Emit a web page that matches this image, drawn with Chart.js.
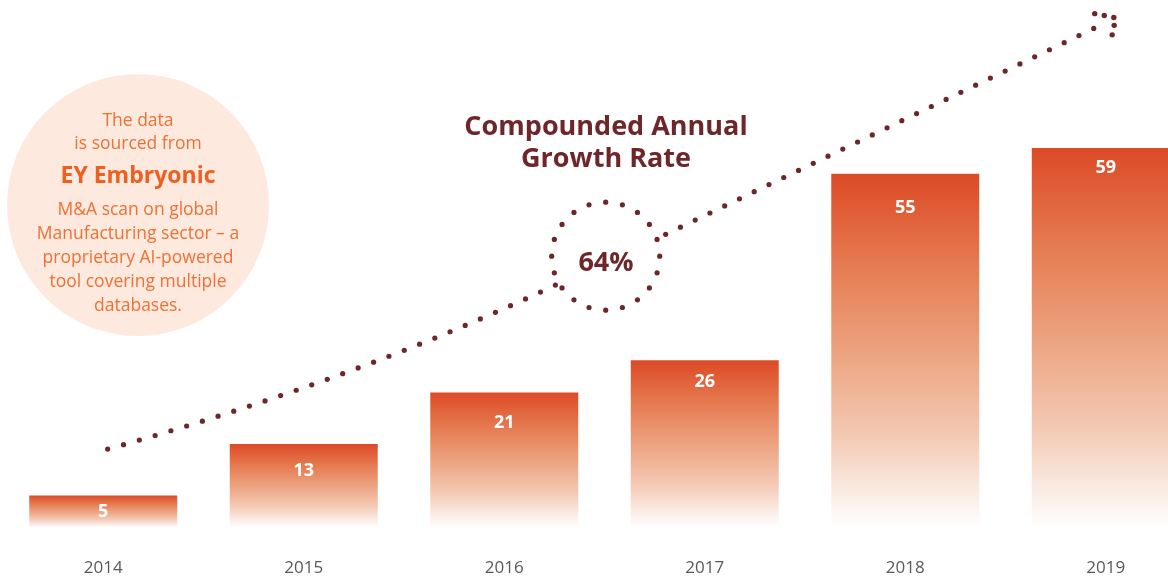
<!DOCTYPE html>
<html>
<head>
<meta charset="utf-8">
<title>Deal count 2014-2019</title>
<script src="https://cdn.jsdelivr.net/npm/chart.js@4.4.1/dist/chart.umd.min.js"></script>
<style>
 body {
  margin: 0;
  width: 1168px;
  height: 578px;
  overflow: hidden;
  position: relative;
  background: #ffffff;
  font-family: 'Open Sans', 'Noto Sans', sans-serif;
 }
 #chartBox {
  position: absolute;
  left: 0;
  top: 0;
  width: 1212px;
  height: 578px;
 }
 .source {
  position: absolute;
  left: 7px;
  top: 74px;
  width: 262px;
  height: 262px;
  border-radius: 50%;
  background: #fde9de;
  color: #f07034;
  text-align: center;
  white-space: nowrap;
 }
 .source .intro {
  margin: 0;
  padding-top: 34px;
  font-size: 17.5px;
  line-height: 23px;
 }
 .source .brand {
  margin: 5px 0 0 0;
  font-size: 23px;
  font-weight: 700;
  line-height: 30px;
  color: #ec6122;
 }
 .source .desc {
  margin: 7px 0 0 0;
  font-size: 17.5px;
  line-height: 24px;
 }
 .cagrTitle {
  position: absolute;
  left: 406px;
  top: 109px;
  width: 400px;
  text-align: center;
  font-size: 27px;
  font-weight: 700;
  line-height: 32px;
  color: #6f262a;
 }
 .cagrValue {
  position: absolute;
  left: 556px;
  top: 245px;
  width: 100px;
  text-align: center;
  font-size: 27px;
  font-weight: 700;
  line-height: 32px;
  color: #6f262a;
 }
</style>
</head>
<body>

<div id="chartBox"><canvas id="dealChart" width="1212" height="578"></canvas></div>

<div class="source">
 <p class="intro">The data<br>is sourced from</p>
 <p class="brand">EY Embryonic</p>
 <p class="desc">M&amp;A scan on global<br>Manufacturing sector – a<br>proprietary AI-powered<br>tool covering multiple<br>databases.</p>
</div>

<div class="cagrTitle">Compounded Annual<br>Growth Rate</div>
<div class="cagrValue" id="cagrValue"></div>

<script>
// yearly counts shown on the bars
const years = ['2014', '2015', '2016', '2017', '2018', '2019'];
const dealCounts = [5, 13, 21, 26, 55, 59];
const cagrPercent = 64;

const dotColor = '#6d2629';

document.getElementById('cagrValue').textContent = cagrPercent + '%';

// each bar fades from orange at its top to white at the axis
function barGradient(context) {
 var chart = context.chart;
 if (!chart.chartArea || !chart.scales.y) {
  return '#dc4a26';
 }
 var yScale = chart.scales.y;
 var top = yScale.getPixelForValue(context.raw);
 var base = yScale.getPixelForValue(0);
 var g = chart.ctx.createLinearGradient(0, top, 0, base);
 g.addColorStop(0, '#dc4a26');
 g.addColorStop(0.25, '#e5794f');
 g.addColorStop(0.5, '#eca27f');
 g.addColorStop(0.75, '#f4cbb6');
 g.addColorStop(0.9, '#faebe3');
 g.addColorStop(1, '#ffffff');
 return g;
}

// white value labels inside the bars
const barLabels = {
 id: 'barLabels',
 afterDatasetsDraw(chart) {
  var ctx = chart.ctx;
  var meta = chart.getDatasetMeta(0);
  var offsets = [16, 27, 30, 22, 34, 20];
  ctx.save();
  ctx.fillStyle = '#ffffff';
  ctx.font = "700 18px 'Open Sans'";
  ctx.textAlign = 'center';
  ctx.textBaseline = 'middle';
  meta.data.forEach(function(bar, i) {
   ctx.fillText(String(dealCounts[i]), bar.x, bar.y + offsets[i]);
  });
  ctx.restore();
 }
};

// dotted growth arrow, laid out in category/value units
const trendArrow = {
 id: 'trendArrow',
 afterDatasetsDraw(chart) {
  var xs = chart.scales.x;
  var ys = chart.scales.y;
  var ctx = chart.ctx;

  function toPx(p) {
   return { x: xs.getPixelForValue(p[0]), y: ys.getPixelForValue(p[1]) };
  }

  function dot(x, y, r) {
   ctx.beginPath();
   ctx.arc(x, y, r, 0, Math.PI * 2);
   ctx.fill();
  }

  // drop dots evenly along a sampled path
  function dottedPath(pts, step, r) {
   var total = 0;
   var lens = [0];
   for (var i = 1; i < pts.length; i++) {
    total += Math.hypot(pts[i].x - pts[i - 1].x, pts[i].y - pts[i - 1].y);
    lens.push(total);
   }
   var n = Math.max(1, Math.round(total / step));
   var j = 1;
   for (var k = 0; k <= n; k++) {
    var d = total * k / n;
    while (j < lens.length - 1 && lens[j] < d) j++;
    var seg = lens[j] - lens[j - 1] || 1;
    var t = (d - lens[j - 1]) / seg;
    dot(pts[j - 1].x + (pts[j].x - pts[j - 1].x) * t,
     pts[j - 1].y + (pts[j].y - pts[j - 1].y) * t, r);
   }
  }

  function quadPoints(a, c, b) {
   var out = [];
   for (var i = 0; i <= 60; i++) {
    var t = i / 60;
    var u = 1 - t;
    out.push({
     x: u * u * a.x + 2 * u * t * c.x + t * t * b.x,
     y: u * u * a.y + 2 * u * t * c.y + t * t * b.y
    });
   }
   return out;
  }

  ctx.save();
  ctx.fillStyle = dotColor;

  // lower curve up to the ring
  dottedPath(quadPoints(toPx([0.022, 12.2]), toPx([1.249, 22.9]), toPx([2.255, 37.7])), 16.3, 2.6);

  // ring around the growth figure
  var centre = toPx([2.506, 42.2]);
  for (var a = 0; a < 20; a++) {
   var ang = a * Math.PI / 10;
   dot(centre.x + 54 * Math.cos(ang), centre.y + 54 * Math.sin(ang), 2.6);
  }

  // upper straight run
  dottedPath([toPx([2.805, 45.6]), toPx([4.94, 77.6])], 16.3, 2.6);

  // arrow head
  dottedPath([toPx([4.945, 79.9]), toPx([5.05, 79.25]), toPx([5.032, 76.6])], 10.5, 2.7);

  ctx.restore();
 }
};

function renderChart() {
 var ctx = document.getElementById('dealChart').getContext('2d');
 new Chart(ctx, {
  type: 'bar',
  data: {
   labels: years,
   datasets: [{
    data: dealCounts,
    backgroundColor: barGradient,
    borderWidth: 0,
    barPercentage: 0.738,
    categoryPercentage: 1
   }]
  },
  options: {
   responsive: false,
   animation: false,
   devicePixelRatio: 1,
   layout: {
    padding: { top: 13, left: 3, right: 6, bottom: 0 }
   },
   plugins: {
    legend: { display: false },
    tooltip: { enabled: false }
   },
   scales: {
    x: {
     grid: { display: false, drawTicks: false },
     border: { display: false },
     ticks: {
      color: '#595959',
      padding: 30,
      font: { family: "'Open Sans'", size: 17 }
     },
     // keep the axis band to label + gap only
     afterFit: function(scale) {
      scale.height = 50.4;
     }
    },
    y: {
     display: false,
     min: 0,
     max: 80
    }
   }
  },
  plugins: [barLabels, trendArrow]
 });
}

window.addEventListener('load', renderChart);
</script>
</body>
</html>
